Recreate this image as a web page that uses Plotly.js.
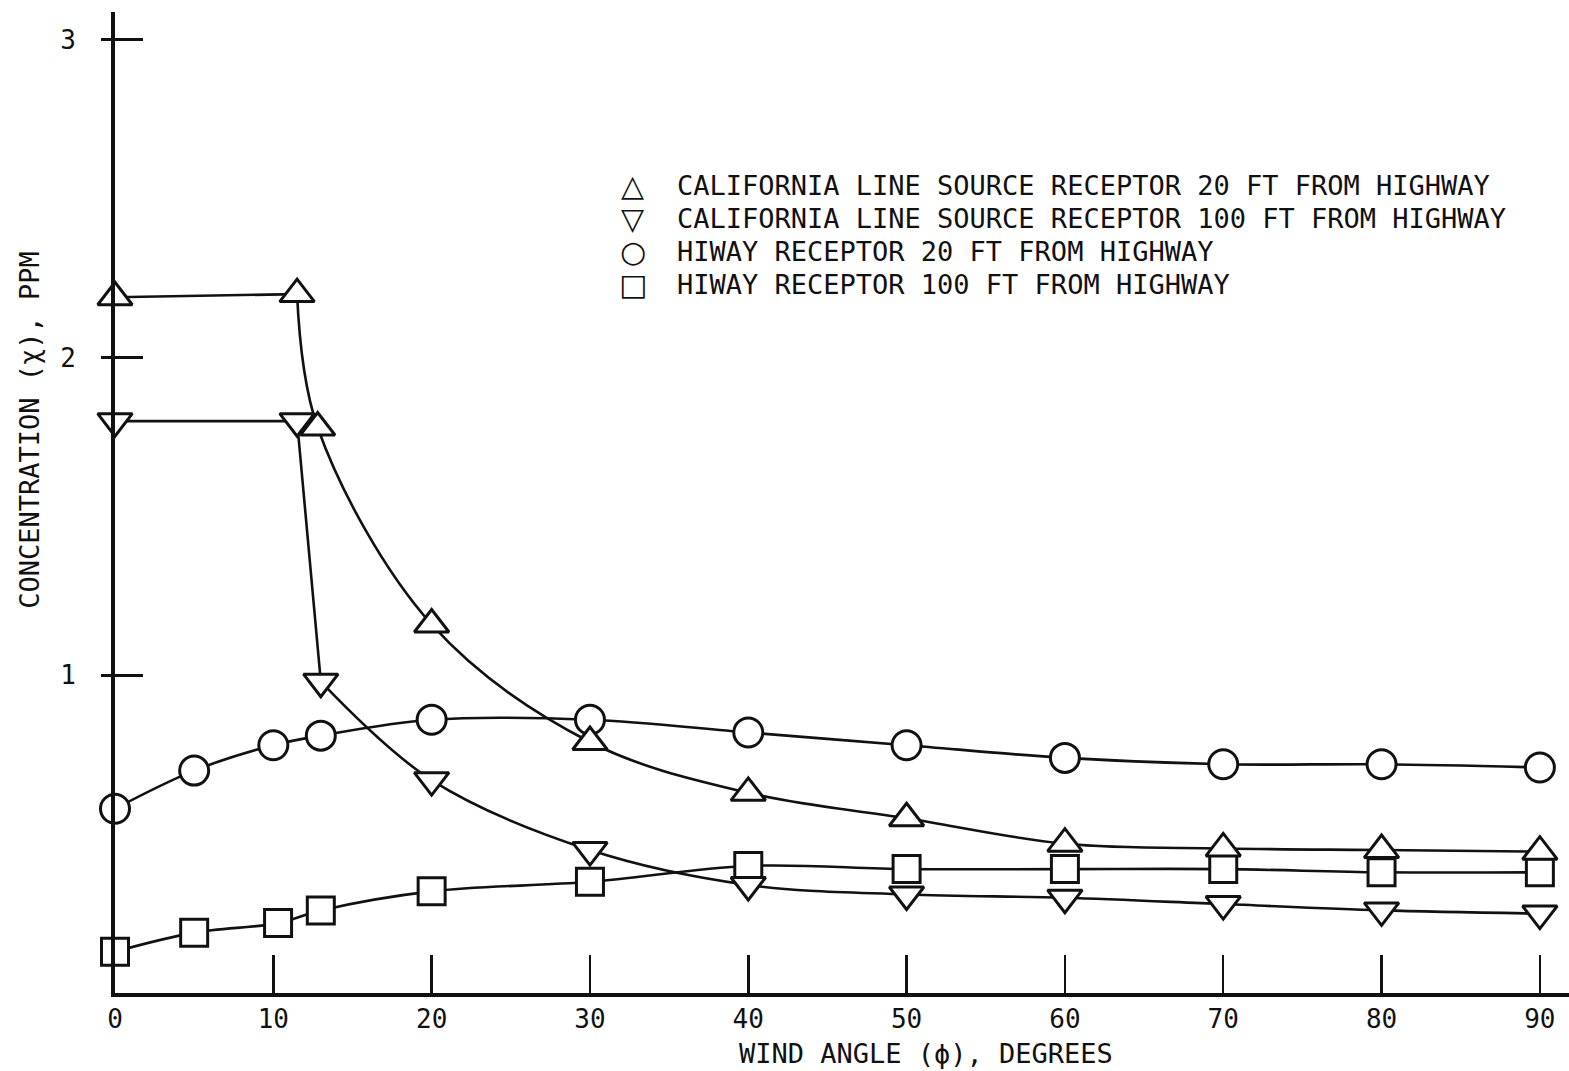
<!DOCTYPE html>
<html>
<head>
<meta charset="utf-8">
<script src="https://cdn.plot.ly/plotly-3.0.1.min.js"></script>
<style>
  html, body { margin: 0; padding: 0; background: #ffffff; }
  #chart { width: 1569px; height: 1071px; }
</style>
</head>
<body>
<div id="chart"></div>
<script>
// Wind angle (degrees) and concentration (ppm) for each model / receptor
const caNearAngle = [0, 11.5, 12.8, 20, 30, 40, 50, 60, 70, 80, 90];
const caNearConc  = [2.19, 2.20, 1.78, 1.16, 0.79, 0.63, 0.55, 0.47, 0.455, 0.45, 0.445];

const caFarAngle = [0, 11.5, 13, 20, 30, 40, 50, 60, 70, 80, 90];
const caFarConc  = [1.80, 1.80, 0.98, 0.67, 0.45, 0.34, 0.31, 0.30, 0.28, 0.26, 0.25];

const hiwayNearAngle = [0, 5, 10, 13, 20, 30, 40, 50, 60, 70, 80, 90];
const hiwayNearConc  = [0.58, 0.70, 0.78, 0.81, 0.86, 0.86, 0.82, 0.78, 0.74, 0.72, 0.72, 0.71];

const hiwayFarAngle = [0, 5, 10.3, 13, 20, 30, 40, 50, 60, 70, 80, 90];
const hiwayFarConc  = [0.13, 0.19, 0.22, 0.26, 0.32, 0.35, 0.40, 0.39, 0.39, 0.39, 0.38, 0.38];

const seriesLabels = [
  "CALIFORNIA LINE SOURCE RECEPTOR 20 FT FROM HIGHWAY",
  "CALIFORNIA LINE SOURCE RECEPTOR 100 FT FROM HIGHWAY",
  "HIWAY RECEPTOR 20 FT FROM HIGHWAY",
  "HIWAY RECEPTOR 100 FT FROM HIGHWAY"
];
const legendGlyphs = ["\u25B3", "\u25BD", "\u25CB", "\u25A1"];

const xTickVals = [0, 10, 20, 30, 40, 50, 60, 70, 80, 90];
const xTickText = ["0", "10", "20", "30", "40", "50", "60", "70", "80", "90"];
const yTickVals = [1, 2, 3];
const yTickText = ["1", "2", "3"];

const FONT = "DejaVu Sans Mono, Liberation Mono, monospace";
const INK = "#111111";

function lineTrace(x, y, shape) {
  return {
    x: x, y: y, type: "scatter", mode: "lines", showlegend: false,
    line: { color: INK, width: 2.6, shape: shape, smoothing: 1 },
    hoverinfo: "skip"
  };
}
function markerTrace(x, y, symbol, size) {
  return {
    x: x, y: y, type: "scatter", mode: "markers", showlegend: false,
    marker: { symbol: symbol, size: size, color: "#ffffff",
              line: { color: INK, width: 3 } },
    cliponaxis: false
  };
}

const traces = [
  // California model, 20 ft: flat plateau then smooth decay
  lineTrace(caNearAngle.slice(0, 2), caNearConc.slice(0, 2), "linear"),
  lineTrace(caNearAngle.slice(1), caNearConc.slice(1), "spline"),
  // California model, 100 ft: plateau, sharp drop, smooth decay
  lineTrace(caFarAngle.slice(0, 3), caFarConc.slice(0, 3), "linear"),
  lineTrace(caFarAngle.slice(2), caFarConc.slice(2), "spline"),
  // HIWAY model curves
  lineTrace(hiwayNearAngle, hiwayNearConc, "spline"),
  lineTrace(hiwayFarAngle, hiwayFarConc, "spline"),
  // open symbols on top of the curves
  markerTrace(hiwayFarAngle, hiwayFarConc, "square", 27),
  markerTrace(hiwayNearAngle, hiwayNearConc, "circle", 29),
  markerTrace(caFarAngle, caFarConc, "triangle-down", 30),
  markerTrace(caNearAngle, caNearConc, "triangle-up", 30)
];

// Legend rows: symbol column and text column (paper coordinates)
const legendRowY = [0.8236, 0.789, 0.7554, 0.7227];
const annotations = [];
seriesLabels.forEach(function (label, i) {
  annotations.push({
    xref: "paper", yref: "paper", x: 0.356, y: legendRowY[i],
    text: legendGlyphs[i], showarrow: false, xanchor: "center", yanchor: "middle",
    font: { family: "DejaVu Sans, sans-serif", size: 30, color: INK }
  });
  annotations.push({
    xref: "paper", yref: "paper", x: 0.385, y: legendRowY[i],
    text: label, showarrow: false, xanchor: "left", yanchor: "middle",
    font: { family: FONT, size: 27, color: INK }
  });
});
// Axis titles
annotations.push({
  xref: "paper", yref: "paper", x: -0.0585, y: 0.574,
  text: "CONCENTRATION (\u03C7), PPM", textangle: -90, showarrow: false,
  xanchor: "center", yanchor: "middle",
  font: { family: FONT, size: 27, color: INK }
});
annotations.push({
  xref: "paper", yref: "paper", x: 0.558, y: -0.062,
  text: "WIND ANGLE (\u03D5), DEGREES", showarrow: false,
  xanchor: "center", yanchor: "middle",
  font: { family: FONT, size: 27, color: INK }
});

const layout = {
  width: 1569, height: 1071,
  margin: { l: 115, r: 0, t: 12, b: 78 },
  paper_bgcolor: "#ffffff", plot_bgcolor: "#ffffff",
  showlegend: false,
  xaxis: {
    range: [0, 91.84], showgrid: false, zeroline: false,
    showline: true, linewidth: 4, linecolor: INK,
    ticks: "inside", ticklen: 38, tickwidth: 2.5, tickcolor: INK,
    tickmode: "array", tickvals: xTickVals, ticktext: xTickText,
    tickfont: { family: FONT, size: 26, color: INK }
  },
  yaxis: {
    range: [0, 3.088], showgrid: false, zeroline: false,
    showline: true, linewidth: 4, linecolor: INK,
    ticks: "outside", ticklen: 10, tickwidth: 3, tickcolor: INK,
    tickmode: "array", tickvals: yTickVals, ticktext: yTickText,
    ticklabelstandoff: 20,
    tickfont: { family: FONT, size: 26, color: INK }
  },
  yaxis2: {
    overlaying: "y", matches: "y", side: "left",
    showgrid: false, zeroline: false, showline: false,
    ticks: "inside", ticklen: 28, tickwidth: 3, tickcolor: INK,
    tickmode: "array", tickvals: yTickVals, showticklabels: false
  },
  annotations: annotations
};

// dummy trace so the second y axis (inner tick marks) is drawn
traces.push({ x: [null], y: [null], yaxis: "y2", type: "scatter", mode: "markers", showlegend: false });

Plotly.newPlot("chart", traces, layout, { staticPlot: true, displayModeBar: false });
</script>
</body>
</html>
